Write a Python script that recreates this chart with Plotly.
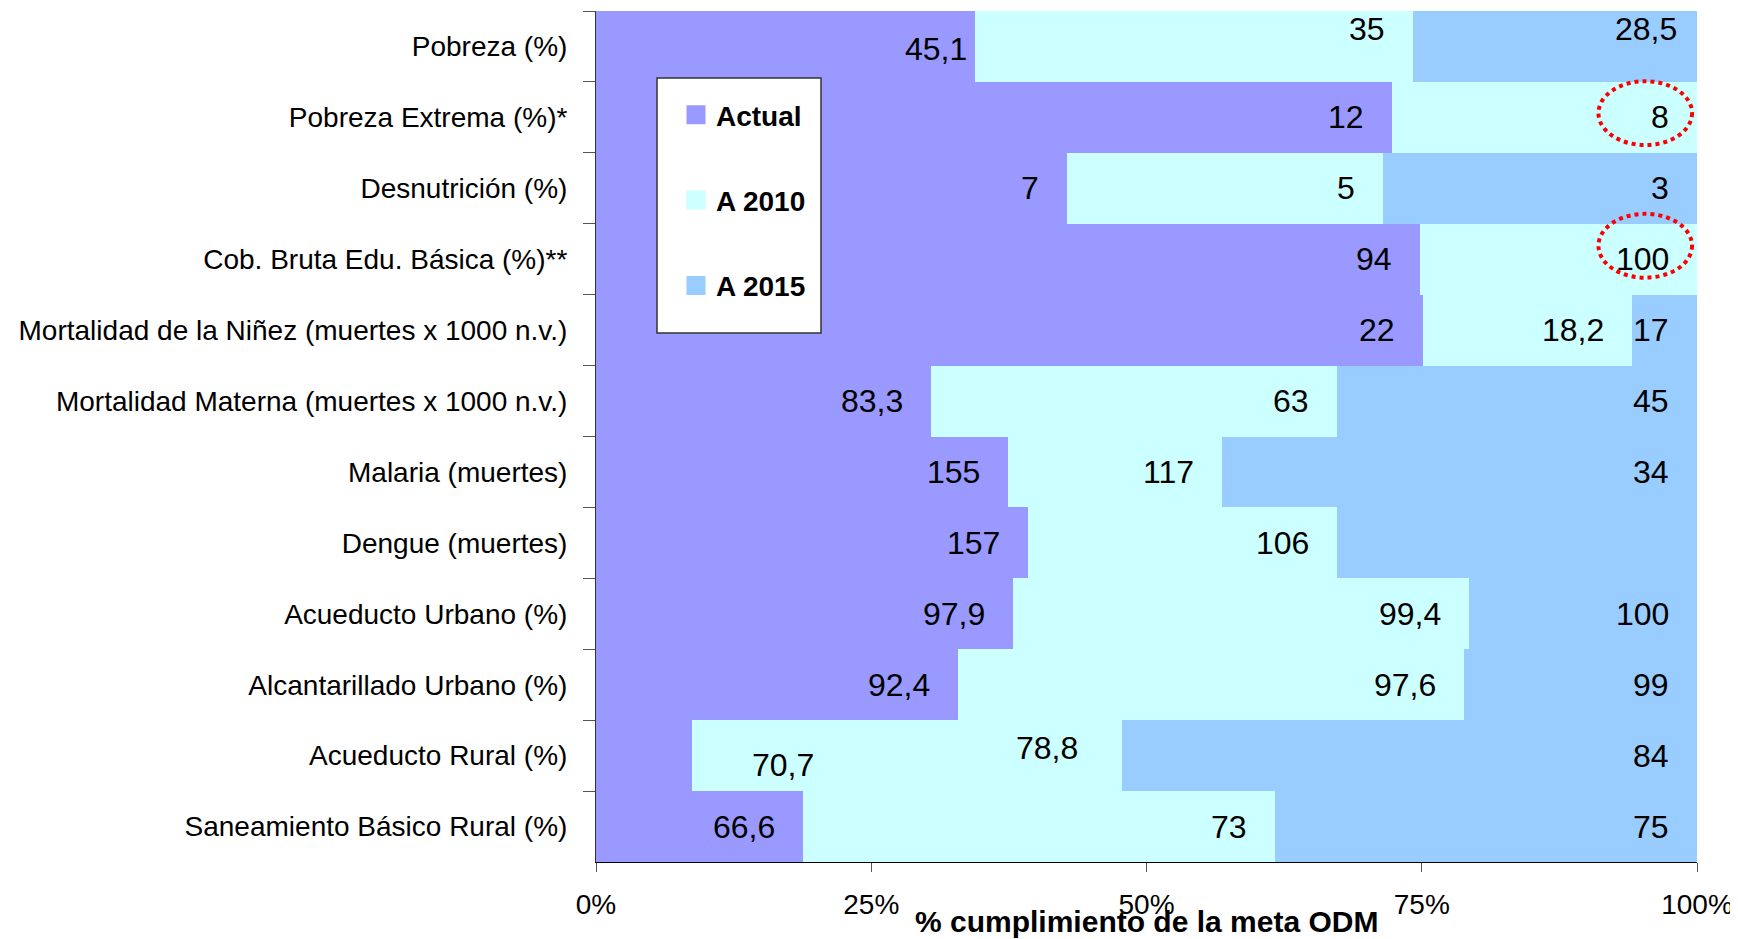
import plotly.graph_objects as go

# ---------------- data ----------------
categories = [
    "Pobreza (%)",
    "Pobreza Extrema (%)*",
    "Desnutrición (%)",
    "Cob. Bruta Edu. Básica (%)**",
    "Mortalidad de la Niñez (muertes x 1000 n.v.)",
    "Mortalidad Materna (muertes x 1000 n.v.)",
    "Malaria (muertes)",
    "Dengue (muertes)",
    "Acueducto Urbano (%)",
    "Alcantarillado Urbano (%)",
    "Acueducto Rural (%)",
    "Saneamiento Básico Rural (%)",
]
series_names = ["Actual", "A 2010", "A 2015"]

# share of the bar (% cumplimiento de la meta ODM) per segment
actual_share = [34.4, 72.3, 42.8, 74.8, 75.1, 30.4, 37.4, 39.2, 37.9, 32.9, 8.7, 18.8]
a2010_share = [39.8, 27.7, 28.7, 25.2, 19.0, 36.9, 19.5, 28.1, 41.4, 45.9, 39.1, 42.9]
a2015_share = [25.8, 0.0, 28.5, 0.0, 5.9, 32.7, 43.1, 32.7, 20.7, 21.2, 52.2, 38.3]

# values written on the segments
actual_labels = ["45,1", "12", "7", "94", "22", "83,3", "155", "157", "97,9", "92,4", "70,7", "66,6"]
a2010_labels = ["35", "8", "5", "100", "18,2", "63", "117", "106", "99,4", "97,6", "78,8", "73"]
a2015_labels = ["28,5", "", "3", "", "17", "45", "34", "46", "100", "99", "84", "75"]

tick_vals = [0, 25, 50, 75, 100]
tick_text = ["0%", "25%", "50%", "75%", "100%"]

# circled goal values: (category, series)
highlighted = [("Pobreza Extrema (%)*", "A 2010"), ("Cob. Bruta Edu. Básica (%)**", "A 2010")]

# ---------------- style ----------------
colors = ["#9999FF", "#CCFFFF", "#99CCFF"]
FONT = "Liberation Sans, Arial, sans-serif"
LABEL_XSHIFT = -26
# hand-placed labels in the original (pixel nudges: dx, dy)
label_nudges = {
    ("Acueducto Rural (%)", "Actual"): (150, -9),
    ("Acueducto Rural (%)", "A 2010"): (-16, 8),
    ("Pobreza (%)", "A 2010"): (0, 17),
    ("Pobreza (%)", "A 2015"): (8, 17),
    ("Pobreza (%)", "Actual"): (20, -3),
}
ellipse_dy = {"Pobreza Extrema (%)*": -0.06, "Cob. Bruta Edu. Básica (%)**": -0.19}

# the page body has an 8px margin: size the figure so the plot lands where intended
BODY = 8
W, H = 1738 - BODY, 939 - BODY
ML, MR, MT, MB = 596 - BODY, 41, 11 - BODY, 77
PW, PH = W - ML - MR, H - MT - MB          # plot area size (1101 x 851)
PX0, PY0 = ML + BODY, MT + BODY           # plot area origin in the page


def px_x(x):
    return (x - PX0) / PW


def px_y(y):
    return (PY0 + PH - y) / PH


shares = [actual_share, a2010_share, a2015_share]
labels = [actual_labels, a2010_labels, a2015_labels]

fig = go.Figure()
for name, share, color in zip(series_names, shares, colors):
    fig.add_trace(go.Bar(
        y=categories, x=share, name=name, orientation="h",
        marker=dict(color=color, line=dict(width=0)),
        legendgroup=name, showlegend=False, hoverinfo="skip",
    ))
# legend entries (large square swatches)
for name, color in zip(series_names, colors):
    fig.add_trace(go.Scatter(
        x=[None], y=[None], mode="markers", name=name, legendgroup=name,
        marker=dict(symbol="square", size=16, color=color, line=dict(color=color, width=3)),
        showlegend=True, hoverinfo="skip",
    ))

# value labels at the inner end of each segment
annotations = []
for ci, cat in enumerate(categories):
    start = 0.0
    for si in range(3):
        end = start + shares[si][ci]
        txt = labels[si][ci]
        if txt:
            dx, dy = label_nudges.get((cat, series_names[si]), (0, 0))
            annotations.append(dict(
                x=end, y=cat, xref="x", yref="y", text=txt, showarrow=False,
                xanchor="right", yanchor="middle", xshift=LABEL_XSHIFT + dx, yshift=dy,
                font=dict(family=FONT, size=32, color="#000000"),
            ))
        start = end

# axis title
annotations.append(dict(
    x=0.5, y=0, xref="paper", yref="paper", yshift=-59, text="% cumplimiento de la meta ODM",
    showarrow=False, xanchor="center", yanchor="middle",
    font=dict(family=FONT, size=30, color="#000000", weight="bold"),
))

shapes = []
# legend frame
shapes.append(dict(
    type="rect", xref="paper", yref="paper",
    x0=px_x(657), x1=px_x(821), y0=px_y(333), y1=px_y(78),
    fillcolor="white", line=dict(color="#333333", width=1.5), layer="above",
))
# dotted red ellipses around highlighted values
for cat, sname in highlighted:
    ci = categories.index(cat)
    si = series_names.index(sname)
    end = sum(shares[k][ci] for k in range(si + 1))
    cx = end - 4.7
    cy = ci + ellipse_dy[cat]
    shapes.append(dict(
        type="circle", xref="x", yref="y",
        x0=cx - 4.25, x1=cx + 4.25, y0=cy - 0.45, y1=cy + 0.45,
        line=dict(color="#FF0000", width=4, dash="dot"),
    ))

fig.update_layout(
    barmode="stack", bargap=0,
    width=W, height=H,
    margin=dict(l=ML, r=MR, t=MT, b=MB, autoexpand=False),
    paper_bgcolor="white", plot_bgcolor="white",
    font=dict(family=FONT, size=28, color="#000000"),
    showlegend=True,
    legend=dict(
        x=px_x(676), y=px_y(90), xanchor="left", yanchor="top",
        bgcolor="rgba(0,0,0,0)", borderwidth=0,
        font=dict(family=FONT, size=28, color="#000000", weight="bold"),
        traceorder="grouped", tracegroupgap=46, itemsizing="trace",
    ),
    annotations=annotations,
    shapes=shapes,
    xaxis=dict(
        range=[0, 100], tickvals=tick_vals, ticktext=tick_text,
        showgrid=False, zeroline=False, automargin=False,
        showline=True, linecolor="#000000", linewidth=1,
        ticks="outside", ticklen=9, tickcolor="#555555",
        ticklabelstandoff=8,
        tickfont=dict(family=FONT, size=28, color="#000000"),
    ),
    yaxis=dict(
        autorange="reversed", showgrid=False, zeroline=False, automargin=False,
        showline=True, linecolor="#333333", linewidth=1,
        ticks="outside", ticklen=12, tickcolor="#555555", tickson="boundaries",
        ticklabelstandoff=22,
        tickfont=dict(family=FONT, size=28, color="#000000"),
    ),
)

fig.write_html("out.html")
